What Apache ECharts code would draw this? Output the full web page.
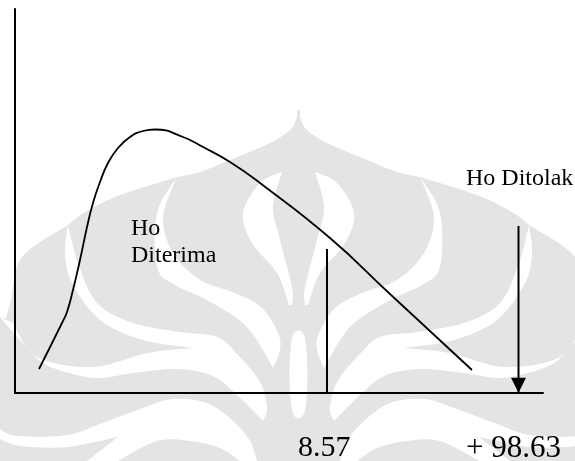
<!DOCTYPE html>
<html><head><meta charset="utf-8">
<style>html,body{margin:0;padding:0;background:#fff}#c{width:575px;height:461px}</style>
<script src="https://cdn.jsdelivr.net/npm/echarts@6/dist/echarts.min.js"></script>
</head><body><div id="c"></div>
<script>
// Schematic scale: 0-100 on both axes
const curveX = [4.55,8.9,9.85,10.98,12.31,13.64,14.77,16.1,17.61,19.51,21.78,24.24,26.52,31.82,35.61,40.72,46.4,59.66,71.02,86.55];
const curveY = [6.25,18.23,21.09,26.82,34.64,43.23,49.48,54.95,59.9,63.8,66.67,68.23,68.62,66.67,64.06,60.16,54.69,40.36,25.78,5.99];
const criticalX = [59.09,59.09];
const criticalY = [0,37.5];
const arrowX = [95.36,95.36];
const arrowY = [0,43.5];
const arrowHeadY = [2];
const labels = ["Ho","Diterima","Ho Ditolak","8.57","+ 98.63"];

const GRAY = '#e4e4e4';
function spline(p){const o=[];for(let i=0;i<p.length-1;i++){const a=p[Math.max(i-1,0)],b=p[i],c=p[i+1],e=p[Math.min(i+2,p.length-1)];
 for(let k=0;k<8;k++){const t=k/8,t2=t*t,t3=t2*t;
  o.push([0,1].map(j=>0.5*(2*b[j]+(c[j]-a[j])*t+(2*a[j]-5*b[j]+4*c[j]-e[j])*t2+(3*b[j]-a[j]-3*c[j]+e[j])*t3)));}}
 o.push(p[p.length-1]);return o;}
function shape(segs){return segs.reduce((acc,s)=>acc.concat(spline(s)),[]);}
const silhouette=shape([
 [[298.5,110],[296,120],[290,130],[270,143],[230,160],[200,172],[177,177]],
 [[177,177],[120,195],[85,212],[68,225]],
 [[68,225],[22,257],[11,300],[6,318]],
 [[0,318],[0,461]],[[300,461],[300,110]]]);
const whites=[
 shape([[[68,225],[78,263],[97,303],[133,323],[180,332],[217,337],[238,355],[260,382],[267,408],[263,421]],
  [[263,421],[240,398],[213,376],[177,369],[133,373],[100,378],[73,374],[43,363],[20,340],[0,317]],
  [[13,323],[37,357],[93,367],[147,353],[193,348]],
  [[193,348],[143,340],[100,320],[72,283],[65,253],[68,225]]]),
 shape([[[177,177],[157,213],[157,267],[175,285],[207,300],[247,327],[273,368]],
  [[273,368],[280,350],[278,333],[262,308],[235,293],[200,280],[173,253],[163,217],[177,177]]]),
 shape([[[282,172],[260,183],[243,213],[252,243],[277,273],[289,305]],
  [[292,305],[292,287],[280,240],[273,207],[282,172]]]),
 shape([[[0,429],[17,436],[67,435],[100,424],[143,408],[173,399],[207,403],[233,421],[250,441],[257,461]],
  [[240,461],[220,448],[190,441],[157,441],[118,461]],
  [[87,461],[118,437]],
  [[118,437],[67,447],[20,446],[0,439]]])
];
const oval=shape([[[298.5,330],[292,338],[289.5,374],[292,410],[298.5,418],[305,410],[307.5,374],[305,338],[298.5,330]]]);
function half(mirror){
 const kids=[{type:'polygon',shape:{points:silhouette},style:{fill:GRAY},silent:true}]
  .concat(whites.map(d=>({type:'polygon',shape:{points:d},style:{fill:'#fff'},silent:true})));
 return {type:'group',x:mirror?597:0,scaleX:mirror?-1:1,silent:true,children:kids};
}
function txt(s,x,y,size){return {type:'text',left:x,top:y,z:100,silent:true,style:{text:s,fill:'#000',font:size+'px "Liberation Serif"'}};}

const zip=(a,b)=>a.map((v,i)=>[v,b[i]]);
const chart=echarts.init(document.getElementById('c'),null,{renderer:'canvas'});
chart.setOption({
 animation:false,
 grid:{left:15,right:32,top:9,bottom:68},
 xAxis:{type:'value',min:0,max:100,z:5,axisLine:{show:true,onZero:false,lineStyle:{color:'#000',width:2}},axisTick:{show:false},axisLabel:{show:false},splitLine:{show:false}},
 yAxis:{type:'value',min:0,max:100,z:5,axisLine:{show:true,onZero:false,lineStyle:{color:'#000',width:2}},axisTick:{show:false},axisLabel:{show:false},splitLine:{show:false}},
 graphic:[half(false),half(true),
  {type:'polygon',silent:true,shape:{points:oval},style:{fill:'#fff'}},
  txt(labels[0],131,217,24),txt(labels[1],131,244,24),txt(labels[2],466,167,24),
  txt(labels[3],298,433,30),txt(labels[4],466,433,31)],
 series:[
  {type:'line',z:6,data:zip(curveX,curveY),smooth:0.5,symbol:'none',lineStyle:{color:'#000',width:1.8}},
  {type:'line',z:6,data:zip(criticalX,criticalY),symbol:'none',lineStyle:{color:'#000',width:2}},
  {type:'line',z:6,data:zip(arrowX,arrowY),symbol:'none',lineStyle:{color:'#000',width:2}},
  {type:'scatter',z:6,data:zip(arrowX.slice(0,1),arrowHeadY),symbol:'triangle',symbolRotate:180,symbolSize:[15,15],itemStyle:{color:'#000',opacity:1}}
 ]
});
</script></body></html>
